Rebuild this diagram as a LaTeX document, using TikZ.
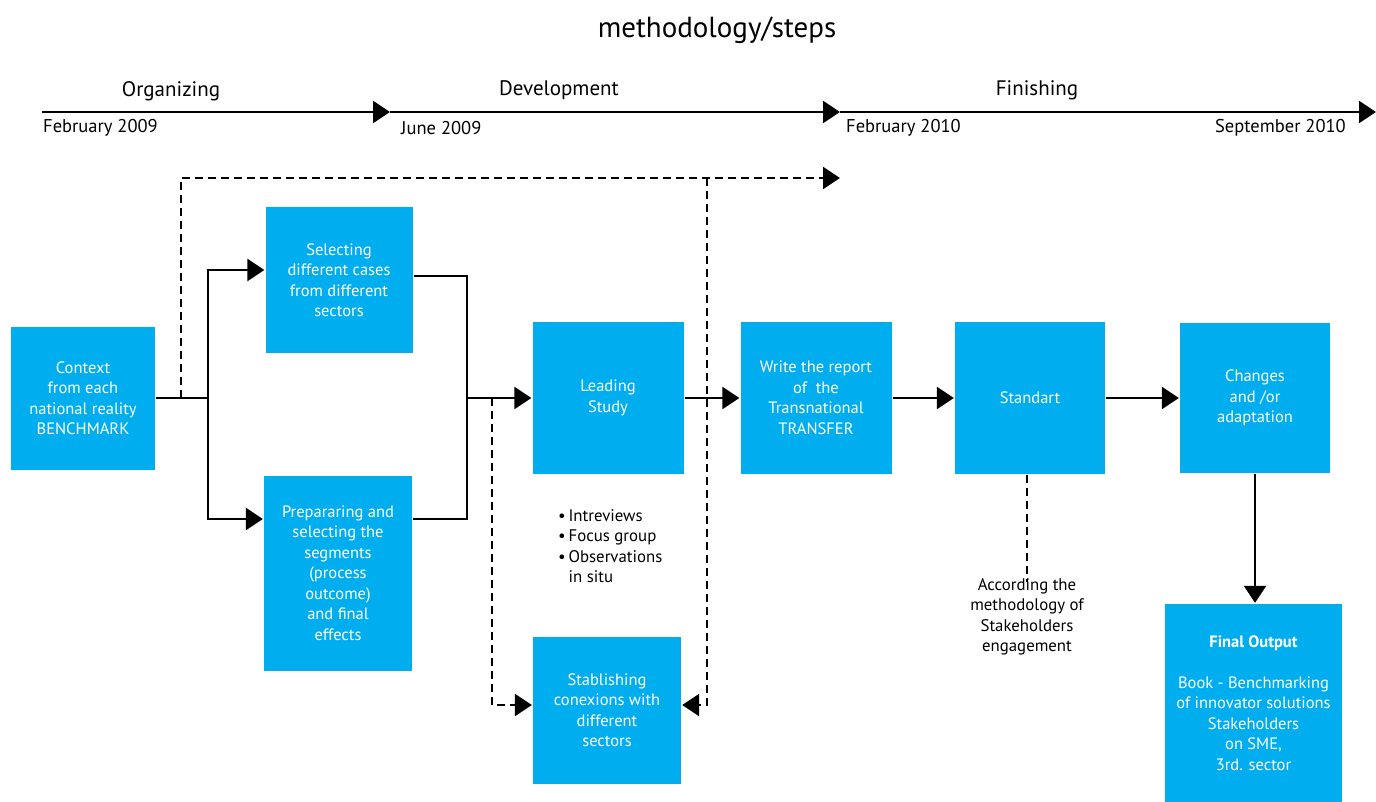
\documentclass[tikz,border=0pt]{standalone}
\usepackage{fontspec}
\setmainfont{PT Sans}
\usepackage{tikz}
\usetikzlibrary{arrows.meta}
\definecolor{boxblue}{HTML}{00AEEF}

\begin{document}
\begin{tikzpicture}[x=1pt,y=-1pt,line width=2.4pt,
  box/.style={fill=boxblue,text=white,align=center,inner sep=0pt,
    minimum width=147pt,minimum height=147pt,font=\fontsize{16.5}{20.5}\selectfont},
  tip/.style={-{Triangle[length=17pt,width=22pt]}},
  dashline/.style={dash pattern=on 8pt off 5pt},
  plain/.style={align=center,inner sep=0pt,font=\fontsize{16.8}{20.5}\selectfont}]
\useasboundingbox (0,0) rectangle (1376,802);
\clip (0,0) rectangle (1376,802);

\node (title) at (717,30) [plain,font=\fontsize{29}{32}\selectfont] {methodology/steps};

% timeline
\coordinate (t0) at (42,112);
\coordinate (t1) at (390,112);
\coordinate (t2) at (840,112);
\coordinate (t3) at (1376,112);
\draw[tip] (t0) -- (t1);
\draw[tip] (t1) -- (t2);
\draw[tip] (t2) -- (t3);
\node (org) at (171,91) [plain,font=\fontsize{21}{24}\selectfont] {Organizing};
\node (dev) at (559,90) [plain,font=\fontsize{21}{24}\selectfont] {Development};
\node (fin) at (1037,90) [plain,font=\fontsize{21}{24}\selectfont] {Finishing};
\node (d0) at (42,128) [plain,anchor=west,font=\fontsize{18.5}{22}\selectfont] {February 2009};
\node (d1) at (400,128) [plain,anchor=west,font=\fontsize{18.5}{22}\selectfont] {June 2009};
\node (d2) at (845,128) [plain,anchor=west,font=\fontsize{18.5}{22}\selectfont] {February 2010};
\node (d3) at (1347,128) [plain,anchor=east,font=\fontsize{18.5}{22}\selectfont] {September 2010};

% boxes
\node (context) at (83,398) [box,minimum width=144pt,minimum height=143pt] {Context\\from each\\national reality\\BENCHMARK};
\node (select) at (339,280) [box,minimum height=145pt] {Selecting\\different cases\\from different\\sectors};
\node (prepare) at (338,573) [box,minimum width=148pt,minimum height=195pt] {Prepararing and\\selecting the\\segments\\(process\\outcome)\\and final\\effects};
\node (lead) at (608,398) [box,minimum width=151pt,minimum height=151pt] {Leading\\Study};
\node (conex) at (607,710) [box,minimum width=148pt] {Stablishing\\conexions with\\different\\sectors};
\node (report) at (816,398) [box,minimum width=151pt,minimum height=151pt] {Write the report\\of \ the\\Transnational\\TRANSFER};
\node (standart) at (1030,398) [box,minimum width=150pt,minimum height=151pt] {Standart};
\node (changes) at (1255,398) [box,minimum width=150pt,minimum height=150pt] {Changes\\and /or\\adaptation};
\node (final) at (1253.5,703) [box,minimum width=177pt,minimum height=198pt] {\textbf{Final Output}\\[20.5pt]Book - Benchmarking\\of innovator solutions\\Stakeholders\\on SME,\\3rd. sector};

\node (methods) at (557,546) [plain,anchor=west,align=left] {\textbullet\,Intreviews\\\textbullet\,Focus group\\\textbullet\,Observations\\\phantom{\textbullet\,}in situ};
\node (engage) at (1027,617) [plain] {According the\\methodology of\\Stakeholders\\engagement};

% connectors
\coordinate (fork) at (208,398);
\coordinate (merge) at (467,398);
\coordinate (dstart) at (181,398);
\coordinate (dend) at (840,178);
\coordinate (dright) at (707,178);
\coordinate (dleft) at (492,398);
\draw (context.east) -- (fork);
\draw[tip] (fork) |- ([yshift=10pt]select.west);
\draw[tip] (fork) |- ([yshift=54pt]prepare.west);
\draw ([yshift=4pt]select.east) -| (merge) |- ([yshift=54pt]prepare.east);
\draw[tip] (merge) -- (lead.west);
\draw[dashline,tip] (dstart) |- (dend);
\draw[dashline,tip] (dright) |- ([yshift=5pt]conex.east);
\draw[dashline,tip] (dleft) |- ([yshift=5pt]conex.west);
\draw[tip] (lead.east) -- (report.west);
\draw[tip] (report.east) -- (standart.west);
\draw[tip] (standart.east) -- (changes.west);
\draw[tip] (changes.south) -- (changes.south |- final.north);
\draw[dashline] ([xshift=-3pt]standart.south) -- ([xshift=-3pt,yshift=-5pt]standart.south |- engage.north);

\end{tikzpicture}
\end{document}
